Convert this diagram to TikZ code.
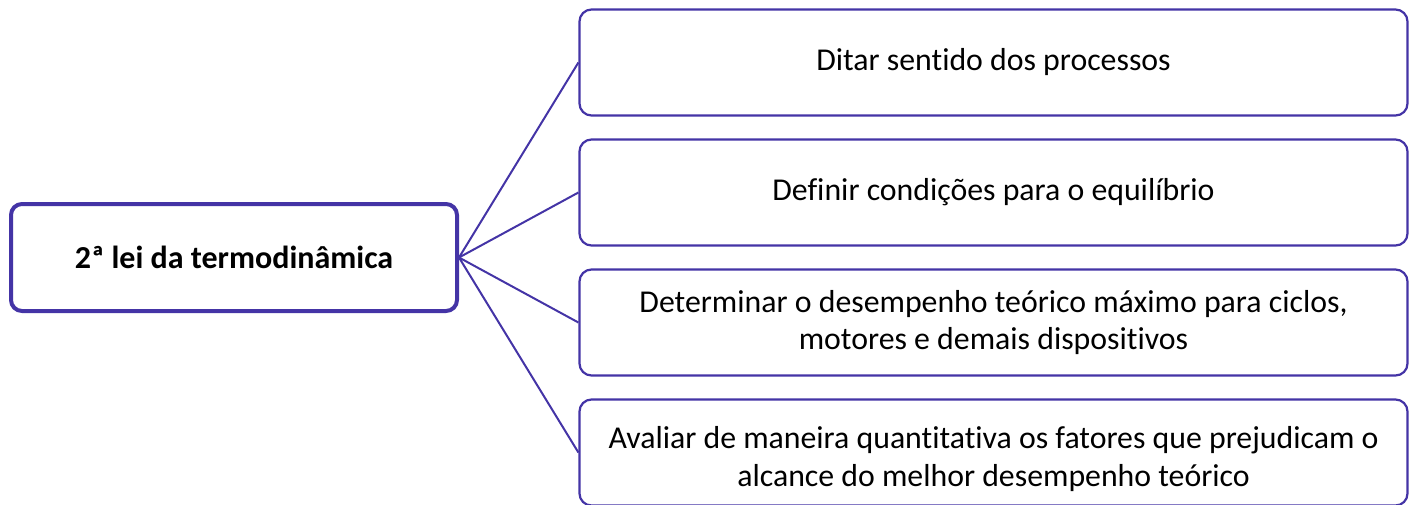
\documentclass[tikz,border=0pt]{standalone}
\usepackage{fontspec}
\setmainfont{Carlito}[Ligatures=NoCommon]
\usepackage{tikz}
\usetikzlibrary{positioning}
\definecolor{roxo}{RGB}{68,52,166}

\begin{document}
\begin{tikzpicture}[x=1pt, y=-1pt]

                \tikzset{% estilos das caixas
                    raiz/.style={rectangle,rounded corners=11pt,draw=roxo,line width=4pt,fill=white,
                                        minimum width=446pt,minimum height=107pt,align=center,
                                        font=\fontsize{32}{38}\selectfont\bfseries},
                    ramo/.style={rectangle,rounded corners=12pt,draw=roxo,line width=2.2pt,fill=white,
                                        minimum width=828pt,minimum height=106pt,align=center,
                                        font=\fontsize{31.8}{37.5}\selectfont},
                    ligacao/.style={draw=roxo,line width=2pt}}

                    \useasboundingbox (0,0) rectangle (1414,504);

                    \node [raiz](lei) at (234,257.5) {2ª lei da termodinâmica};
                    \node [ramo](sentido) at (993.5,62.5) {Ditar sentido dos processos};
                    \node [ramo](equilibrio) at (993.5,192.5) {Definir condições para o equilíbrio};
                    \node [ramo](desempenho) at (993.5,322.5) {Determinar o desempenho teórico máximo para ciclos,\\motores e demais dispositivos};
                    \node [ramo,text height=73pt](fatores) at (993.5,452.5) {Avaliar de maneira quantitativa os fatores que prejudicam o\\alcance do melhor desempenho teórico};

                    \draw [ligacao] (lei.east) -- (sentido.west);
                    \draw [ligacao] (lei.east) -- (equilibrio.west);
                    \draw [ligacao] (lei.east) -- (desempenho.west);
                    \draw [ligacao] (lei.east) -- (fatores.west);

\end{tikzpicture}
\end{document}
